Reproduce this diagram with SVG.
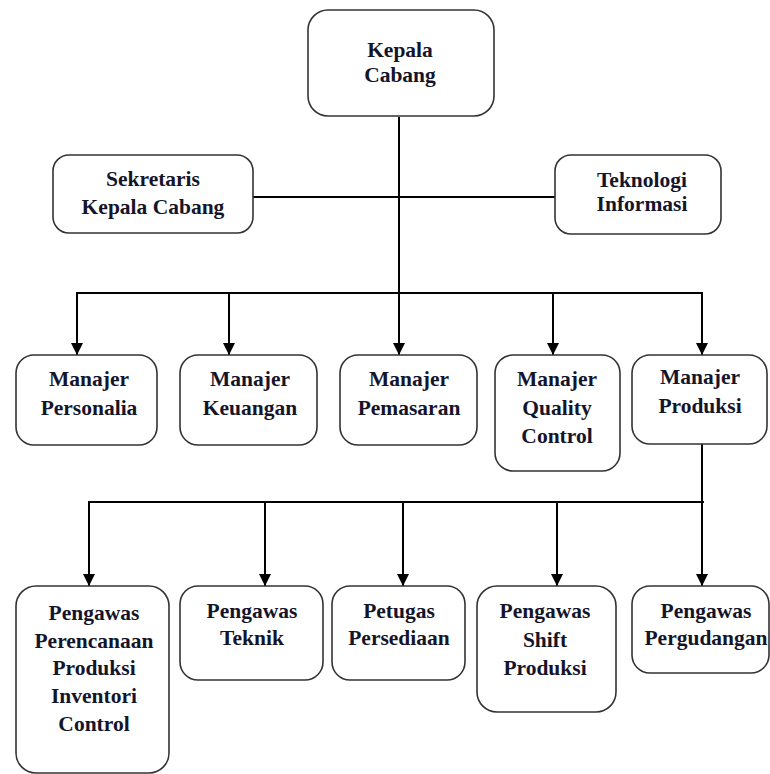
<svg xmlns="http://www.w3.org/2000/svg" width="770" height="774" viewBox="0 0 770 774">
<defs>
<marker id="arr" viewBox="0 0 12 12" refX="12" refY="6" markerWidth="12" markerHeight="12" markerUnits="userSpaceOnUse" orient="auto">
<path d="M0,0 L12,6 L0,12 Z" fill="#000"/>
</marker>
<style>
.box{fill:#fff;stroke:#333;stroke-width:1.6}
.t{font-family:"Liberation Serif","Times New Roman",serif;font-size:21.5px;font-weight:bold;fill:#15152a;text-anchor:middle}
.c{fill:none;stroke:#000;stroke-width:2}
.a{fill:none;stroke:#000;stroke-width:2;marker-end:url(#arr)}
</style>
</defs>
<rect width="770" height="774" fill="#fff"/>
<g id="connectors">
<line class="c" x1="399" y1="117" x2="399" y2="293"/>
<line class="c" x1="253" y1="197" x2="555" y2="197"/>
<line class="c" x1="77" y1="293" x2="702" y2="293"/>
<line class="a" x1="77" y1="292" x2="77" y2="355"/>
<line class="a" x1="229" y1="293" x2="229" y2="355"/>
<line class="a" x1="399" y1="292" x2="399" y2="355"/>
<line class="a" x1="553" y1="293" x2="553" y2="355"/>
<line class="a" x1="702" y1="292" x2="702" y2="355"/>
<line class="c" x1="89" y1="502" x2="704" y2="502"/>
<line class="a" x1="89" y1="501" x2="89" y2="586"/>
<line class="a" x1="265" y1="502" x2="265" y2="586"/>
<line class="a" x1="403" y1="502" x2="403" y2="586"/>
<line class="a" x1="557" y1="502" x2="557" y2="586"/>
<line class="a" x1="702" y1="444" x2="702" y2="586"/>
</g>
<g id="kepala-cabang">
<rect class="box" x="308" y="10" width="186" height="106" rx="20"/>
<text class="t" x="400" y="57">Kepala</text>
<text class="t" x="400" y="82">Cabang</text>
</g>
<g id="sekretaris">
<rect class="box" x="53" y="155" width="200" height="78" rx="16"/>
<text class="t" x="153" y="186">Sekretaris</text>
<text class="t" x="153" y="214">Kepala Cabang</text>
</g>
<g id="teknologi-informasi">
<rect class="box" x="555" y="155" width="166" height="79" rx="16"/>
<text class="t" x="642" y="187">Teknologi</text>
<text class="t" x="642" y="211">Informasi</text>
</g>
<g id="manajer-personalia">
<rect class="box" x="16" y="355" width="141" height="90" rx="18"/>
<text class="t" x="89" y="386">Manajer</text>
<text class="t" x="89" y="415">Personalia</text>
</g>
<g id="manajer-keuangan">
<rect class="box" x="180" y="355" width="137" height="90" rx="18"/>
<text class="t" x="250" y="386">Manajer</text>
<text class="t" x="250" y="415">Keuangan</text>
</g>
<g id="manajer-pemasaran">
<rect class="box" x="340" y="355" width="137" height="90" rx="18"/>
<text class="t" x="409" y="386">Manajer</text>
<text class="t" x="409" y="415">Pemasaran</text>
</g>
<g id="manajer-qc">
<rect class="box" x="495" y="355" width="125" height="116" rx="18"/>
<text class="t" x="557" y="386">Manajer</text>
<text class="t" x="557" y="415">Quality</text>
<text class="t" x="557" y="443">Control</text>
</g>
<g id="manajer-produksi">
<rect class="box" x="632" y="355" width="135" height="89" rx="18"/>
<text class="t" x="700" y="384">Manajer</text>
<text class="t" x="700" y="413">Produksi</text>
</g>
<g id="pengawas-perencanaan">
<rect class="box" x="16" y="586" width="153" height="187" rx="20"/>
<text class="t" x="94" y="620">Pengawas</text>
<text class="t" x="94" y="648">Perencanaan</text>
<text class="t" x="94" y="675">Produksi</text>
<text class="t" x="94" y="703">Inventori</text>
<text class="t" x="94" y="731">Control</text>
</g>
<g id="pengawas-teknik">
<rect class="box" x="180" y="586" width="143" height="94" rx="18"/>
<text class="t" x="252" y="618">Pengawas</text>
<text class="t" x="252" y="645">Teknik</text>
</g>
<g id="petugas-persediaan">
<rect class="box" x="332" y="586" width="133" height="94" rx="18"/>
<text class="t" x="399" y="618">Petugas</text>
<text class="t" x="399" y="645">Persediaan</text>
</g>
<g id="pengawas-shift">
<rect class="box" x="477" y="586" width="139" height="126" rx="20"/>
<text class="t" x="545" y="618">Pengawas</text>
<text class="t" x="545" y="647">Shift</text>
<text class="t" x="545" y="675">Produksi</text>
</g>
<g id="pengawas-pergudangan">
<rect class="box" x="632" y="586" width="137" height="87" rx="18"/>
<text class="t" x="706" y="618">Pengawas</text>
<text class="t" x="706" y="645">Pergudangan</text>
</g>
</svg>
